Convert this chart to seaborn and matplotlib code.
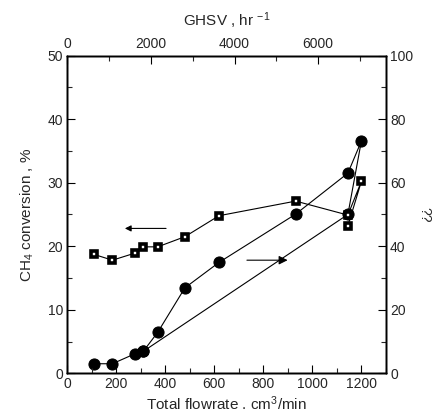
import matplotlib
matplotlib.use("Agg")
import matplotlib.pyplot as plt
import seaborn as sns
import pandas as pd
from matplotlib.ticker import MultipleLocator

# ---- data ----
circ_flow = [110, 184, 275, 310, 369, 480, 619, 932, 1145, 1200, 1145, 310]
circ_val = [3.0, 3.0, 6.1, 6.9, 12.9, 26.9, 34.9, 50.1, 63.0, 73.1, 50.0, 6.9]

sq_flow = [110, 184, 275, 310, 369, 480, 619, 932, 1145, 1200, 1145]
sq_val = [18.7, 17.8, 18.9, 19.9, 19.9, 21.5, 24.8, 27.1, 24.9, 30.2, 23.2]

x_ticks = [0, 200, 400, 600, 800, 1000, 1200]
top_ticks = [0, 2000, 4000, 6000]
left_ticks = [0, 10, 20, 30, 40, 50]
right_ticks = [0, 20, 40, 60, 80, 100]

sns.set_style("ticks")
plt.rcParams['font.family'] = ['Liberation Sans', 'DejaVu Sans']
plt.rcParams['mathtext.fontset'] = 'custom'
plt.rcParams['mathtext.rm'] = 'Liberation Sans'
plt.rcParams['mathtext.it'] = 'Liberation Sans'

fig = plt.figure(figsize=(4.37, 4.12), dpi=100)
ax = fig.add_axes([0.154, 0.094, 0.729, 0.771])
ax_r = ax.twinx()
ax_t = ax.twiny()

df_c = pd.DataFrame({"flow": circ_flow, "val": circ_val})
df_s = pd.DataFrame({"flow": sq_flow, "val": sq_val})

sns.lineplot(data=df_c, x="flow", y="val", ax=ax_r, sort=False, estimator=None,
             color="black", lw=0.8, marker="o", markersize=8,
             markerfacecolor="black", markeredgecolor="black")
sns.lineplot(data=df_s, x="flow", y="val", ax=ax, sort=False, estimator=None,
             color="black", lw=0.8, marker="s", markersize=3.8,
             markerfacecolor="white", markeredgecolor="black", markeredgewidth=2.6)

ax.set_zorder(ax_r.get_zorder() + 1)
ax.patch.set_visible(False)

# arrows
ax.annotate('', xy=(235, 22.8), xytext=(403, 22.8),
            arrowprops=dict(arrowstyle='-|>', color='black', lw=0.8,
                            mutation_scale=9, shrinkA=0, shrinkB=0))
ax.annotate('', xy=(899, 17.8), xytext=(733, 17.8),
            arrowprops=dict(arrowstyle='-|>', color='black', lw=0.8,
                            mutation_scale=13, shrinkA=0, shrinkB=0))

ax.set_xlim(0, 1300)
ax.set_ylim(0, 50)
ax_r.set_ylim(0, 100)
ax_t.set_xlim(0, 7620)

ax.set_xticks(x_ticks)
ax.xaxis.set_minor_locator(MultipleLocator(100))
ax.set_yticks(left_ticks)
ax.yaxis.set_minor_locator(MultipleLocator(5))
ax_r.set_yticks(right_ticks)
ax_r.yaxis.set_minor_locator(MultipleLocator(10))
ax_t.set_xticks(top_ticks)
ax_t.xaxis.set_minor_locator(MultipleLocator(1000))

for a in (ax, ax_r, ax_t):
    a.tick_params(which='major', direction='in', length=6, width=0.8,
                  labelsize=10, pad=3, color='black')
    a.tick_params(which='minor', direction='in', length=3.5, width=0.8)
    for s in a.spines.values():
        s.set_linewidth(1.0)
        s.set_color('black')

ax.set_xlabel("Total flowrate . cm$^3$/min", fontsize=11, labelpad=2)
ax.set_ylabel("CH$_4$ conversion , %", fontsize=11, labelpad=8)
ax_r.set_ylabel("??", fontsize=10, rotation=270, labelpad=13)
ax_t.set_xlabel("GHSV , hr $^{-1}$", fontsize=11, labelpad=8)

fig.savefig("out.png", dpi=100, facecolor="white")
